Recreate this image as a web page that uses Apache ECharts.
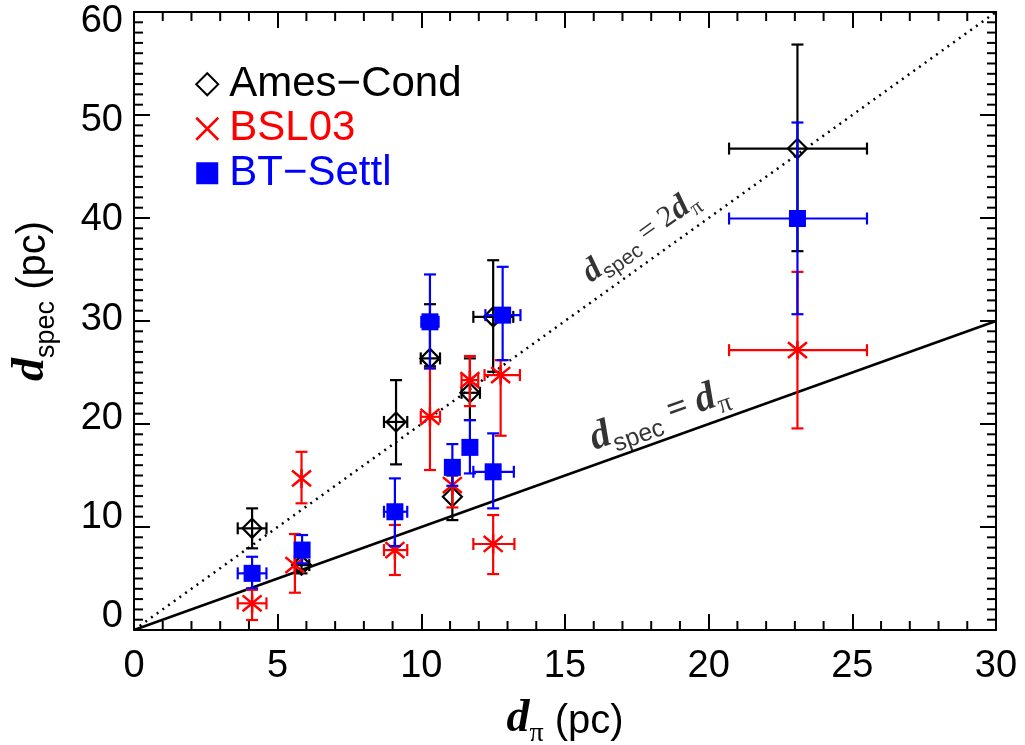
<!DOCTYPE html>
<html><head><meta charset="utf-8">
<script src="https://cdn.jsdelivr.net/npm/echarts@6/dist/echarts.min.js"></script>
<style>html,body{margin:0;padding:0;background:#fff}#c{width:1025px;height:745px}</style>
</head><body><div id="c"></div>
<script>
// ---------------- data ----------------
const amesX   = [4.11, 5.83, 9.12, 10.30, 11.08, 11.69, 12.50, 23.09];
const amesY   = [9.87, 6.30, 20.20, 26.37, 12.94, 23.03, 30.40, 46.74];
const amesYLo = [7.93, 5.50, 16.08, 25.60, 10.67, 20.38, 25.07, 36.78];
const amesYHi = [11.81, 7.10, 24.26, 31.63, 15.00, 26.37, 35.90, 56.84];
const amesXLo = [3.61, 5.60, 8.70, 9.98, null, 11.40, 11.81, 20.71];
const amesXHi = [4.61, 6.10, 9.51, 10.65, null, 12.04, 13.20, 25.51];

const bslX   = [4.11, 5.83, 5.60, 9.08, 10.30, 11.08, 11.69, 12.76, 12.50, 23.09];
const bslY   = [2.59, 14.72, 6.31, 7.76, 20.70, 14.07, 24.26, 24.75, 8.35, 27.17];
const bslYLo = [0.97, 12.30, 3.62, 5.34, 15.53, 11.90, 21.74, 18.86, 5.43, 19.57];
const bslYHi = [3.90, 17.30, 9.32, 10.20, 25.40, 15.50, 26.60, 26.20, 11.16, 34.77];
const bslXLo = [3.61, null, null, 8.70, 9.98, null, 11.40, 12.20, 11.81, 20.71];
const bslXHi = [4.61, null, null, 9.51, 10.65, null, 11.98, 13.43, 13.24, 25.51];

const btX   = [4.11, 5.85, 9.08, 10.30, 11.08, 11.69, 12.50, 12.83, 23.09];
const btY   = [5.50, 7.76, 11.48, 29.92, 15.79, 17.73, 15.36, 30.57, 39.95];
const btYLo = [4.05, 6.47, 8.15, 25.40, 14.00, 15.20, 11.81, 26.20, 30.66];
const btYHi = [7.11, 9.22, 14.72, 34.52, 18.05, 20.38, 19.09, 35.26, 49.27];
const btXLo = [3.61, null, 8.70, 10.00, null, null, 11.81, 12.23, 20.71];
const btXHi = [4.61, null, 9.51, 10.60, null, null, 13.22, 13.45, 25.51];

// reference lines d_spec = d_pi and d_spec = 2 d_pi
const refX       = [0, 30];
const oneToOneY  = [0, 30];
const twoToOneY  = [0, 60];

// annotation anchor points (data coordinates)
const annotX = [17.68, 18.31];
const annotY = [38.04, 20.57];

// tick values
const xTicks = [0, 5, 10, 15, 20, 25, 30];
const yTicks = [0, 10, 20, 30, 40, 50, 60];
const xMinor = [1, 2, 3, 4, 6, 7, 8, 9, 11, 12, 13, 14, 16, 17, 18, 19, 21, 22, 23, 24, 26, 27, 28, 29];
const yMinor = [1, 2, 3, 4, 5, 6, 7, 8, 9, 11, 12, 13, 14, 15, 16, 17, 18, 19,
                21, 22, 23, 24, 25, 26, 27, 28, 29, 31, 32, 33, 34, 35, 36, 37, 38, 39,
                41, 42, 43, 44, 45, 46, 47, 48, 49, 51, 52, 53, 54, 55, 56, 57, 58, 59];

// ---------------- helpers ----------------
function rows(xs, ys, lo, hi, xlo, xhi) {
  return xs.map((x, i) => [x, ys[i], lo[i], hi[i],
    xlo[i] == null ? x : xlo[i], xhi[i] == null ? x : xhi[i]]);
}
function pts(xs, ys) { return xs.map((x, i) => [x, ys[i]]); }

function makeErr(color) {
  return function (params, api) {
    const x = api.value(0), y = api.value(1);
    const ylo = api.value(2), yhi = api.value(3);
    const xlo = api.value(4), xhi = api.value(5);
    const cap = 6;
    const st = { stroke: color, lineWidth: 2.2 };
    const a = api.coord([x, ylo]), b = api.coord([x, yhi]);
    const ch = [
      { type: 'line', shape: { x1: a[0], y1: a[1], x2: b[0], y2: b[1] }, style: st },
      { type: 'line', shape: { x1: a[0] - cap, y1: a[1], x2: a[0] + cap, y2: a[1] }, style: st },
      { type: 'line', shape: { x1: b[0] - cap, y1: b[1], x2: b[0] + cap, y2: b[1] }, style: st }
    ];
    if (xhi > xlo) {
      const l = api.coord([xlo, y]), r = api.coord([xhi, y]);
      ch.push(
        { type: 'line', shape: { x1: l[0], y1: l[1], x2: r[0], y2: r[1] }, style: st },
        { type: 'line', shape: { x1: l[0], y1: l[1] - cap, x2: l[0], y2: l[1] + cap }, style: st },
        { type: 'line', shape: { x1: r[0], y1: r[1] - cap, x2: r[0], y2: r[1] + cap }, style: st }
      );
    }
    return { type: 'group', children: ch };
  };
}

// minor ticks on all four sides of the frame, placed through the axis scales
function makeTicks(dir, len) {
  return function (params, api) {
    const st = { stroke: '#000', lineWidth: 2 };
    if (dir === 'x') {
      const v = api.value(0);
      const b0 = api.coord([v, 0]), t0 = api.coord([v, 60]);
      return { type: 'group', children: [
        { type: 'line', shape: { x1: b0[0], y1: b0[1], x2: b0[0], y2: b0[1] - len }, style: st },
        { type: 'line', shape: { x1: t0[0], y1: t0[1], x2: t0[0], y2: t0[1] + len }, style: st }
      ] };
    }
    const v = api.value(1);
    const l0 = api.coord([0, v]), r0 = api.coord([30, v]);
    return { type: 'group', children: [
      { type: 'line', shape: { x1: l0[0], y1: l0[1], x2: l0[0] + len, y2: l0[1] }, style: st },
      { type: 'line', shape: { x1: r0[0], y1: r0[1], x2: r0[0] - len, y2: r0[1] }, style: st }
    ] };
  };
}

const BLACK = '#000000', RED = '#ff0000', BLUE = '#0000ff';
const SANS = 'Liberation Sans', SERIF = 'Liberation Serif';
const ASTER = 'path://M0,0L10,10M10,0L0,10M5,-1L5,11';
const XICON = 'path://M0,0L10,10M10,0L0,10';

function frameAxis(extra) {
  return Object.assign({
    type: 'value',
    axisLine: { show: true, onZero: false, lineStyle: { color: '#000', width: 2 } },
    axisTick: { show: true, inside: true, length: 16, lineStyle: { color: '#000', width: 2 } },
    axisLabel: { show: false },
    splitLine: { show: false }
  }, extra);
}

const chart = echarts.init(document.getElementById('c'), null, { renderer: 'canvas' });

const richSub = {
  d: { fontFamily: SERIF, fontStyle: 'italic', fontWeight: 'bold', fontSize: 46, color: '#000', padding: [0, 0, 6, 0] },
  sub: { fontFamily: SANS, fontSize: 27, color: '#000', verticalAlign: 'bottom' },
  pi: { fontFamily: SERIF, fontSize: 28, color: '#000', verticalAlign: 'bottom' },
  n: { fontFamily: SANS, fontSize: 40, color: '#000' }
};

const annRich = {
  d: { fontFamily: SERIF, fontStyle: 'italic', fontWeight: 'bold', fontSize: 33, color: '#000', padding: [0, 0, 4, 0] },
  s: { fontFamily: SANS, fontSize: 21, color: '#000', verticalAlign: 'bottom' },
  e: { fontFamily: SERIF, fontSize: 30, color: '#000', padding: [0, 0, 4, 0] },
  p: { fontFamily: SERIF, fontSize: 22, color: '#000', verticalAlign: 'bottom' },
  D: { fontFamily: SERIF, fontStyle: 'italic', fontWeight: 'bold', fontSize: 40, color: '#000', padding: [0, 0, 5, 0] },
  S: { fontFamily: SANS, fontSize: 25, color: '#000', verticalAlign: 'bottom' },
  E: { fontFamily: SERIF, fontWeight: 'bold', fontSize: 36, color: '#000', padding: [0, 0, 5, 0] },
  P: { fontFamily: SERIF, fontSize: 27, color: '#000', verticalAlign: 'bottom' }
};

const option = {
  backgroundColor: '#ffffff',
  animation: false,
  grid: { left: 134, right: 29, top: 12, bottom: 115, containLabel: false, outerBoundsMode: 'none' },
  legend: {
    left: 190, top: 57, orient: 'vertical', selectedMode: false,
    itemWidth: 22, itemHeight: 22, itemGap: 0,
    textStyle: { fontFamily: SANS, fontSize: 42, lineHeight: 44.5, padding: [0, 0, 0, 6] },
    data: [
      { name: 'Ames\u2212Cond', icon: 'diamond', itemStyle: { color: 'rgba(0,0,0,0)', borderColor: BLACK, borderWidth: 2 }, textStyle: { color: BLACK } },
      { name: 'BSL03', icon: XICON, itemStyle: { color: 'rgba(0,0,0,0)', borderColor: RED, borderWidth: 2.5 }, textStyle: { color: RED } },
      { name: 'BT\u2212Settl', icon: 'rect', itemStyle: { color: BLUE, borderWidth: 0 }, textStyle: { color: BLUE } }
    ]
  },
  xAxis: [
    frameAxis({
      min: 0, max: 30, interval: 5, position: 'bottom',
      axisLabel: { show: true, customValues: xTicks, fontFamily: SANS, fontSize: 38, color: '#000', margin: 18 },
      name: '{d|d}{pi|\u03c0}{n| (pc)}', nameLocation: 'middle', nameGap: 66,
      nameTextStyle: { rich: richSub }
    }),
    frameAxis({ min: 0, max: 30, interval: 5, position: 'top' })
  ],
  yAxis: [
    frameAxis({
      min: 0, max: 60, interval: 10, position: 'left',
      name: '{d|d}{sub|spec}{n| (pc)}', nameLocation: 'middle', nameGap: 74, nameRotate: 90,
      nameTextStyle: { rich: richSub, padding: [0, 0, 0, 40] }
    }),
    frameAxis({ min: 0, max: 60, interval: 10, position: 'right' }),
    {
      type: 'value', min: -1.31, max: 60.94, position: 'left',
      axisLine: { show: false, onZero: false }, axisTick: { show: false }, splitLine: { show: false },
      axisLabel: { show: true, customValues: yTicks, fontFamily: SANS, fontSize: 38, color: '#000', margin: 11 }
    }
  ],
  series: [
    { type: 'custom', name: 'xMinorTicks', data: xMinor.map(v => [v, 30]),
      renderItem: makeTicks('x', 9), clip: false, silent: true, z: 10 },
    { type: 'custom', name: 'yMinorTicks', data: yMinor.map(v => [15, v]),
      renderItem: makeTicks('y', 9), clip: false, silent: true, z: 10 },
    { type: 'line', name: 'one', data: pts(refX, oneToOneY), symbol: 'none', silent: true,
      lineStyle: { color: '#000', width: 2.5 }, z: 1 },
    { type: 'line', name: 'two', data: pts(refX, twoToOneY), symbol: 'none', silent: true,
      lineStyle: { color: '#000', width: 2.5, type: [2, 5] }, z: 1 },
    { type: 'scatter', name: 'ann', data: [[annotX[0], annotY[0]], [annotX[1], annotY[1]]],
      symbol: 'circle', symbolSize: 0, silent: true, z: 2,
      label: {
        show: true, position: 'inside',
        formatter: function (p) {
          return p.dataIndex === 0
            ? '{d|d}{s|spec}{e| = 2}{d|d}{p|\u03c0}'
            : '{D|d}{S|spec}{E| = }{D|d}{P|\u03c0}';
        },
        rich: annRich
      },
      labelLayout: function (p) {
        return { rotate: p.dataIndex === 0 ? 35.7 : 19.7 };
      }
    },
    { type: 'custom', name: 'amesErr', data: rows(amesX, amesY, amesYLo, amesYHi, amesXLo, amesXHi),
      renderItem: makeErr(BLACK), clip: false, z: 3, silent: true },
    { type: 'scatter', name: 'Ames\u2212Cond', data: pts(amesX, amesY), symbol: 'diamond', symbolSize: [19, 19],
      itemStyle: { color: 'rgba(0,0,0,0)', borderColor: BLACK, borderWidth: 2.2, opacity: 1 }, z: 4 },
    { type: 'custom', name: 'bslErr', data: rows(bslX, bslY, bslYLo, bslYHi, bslXLo, bslXHi),
      renderItem: makeErr(RED), clip: false, z: 5, silent: true },
    { type: 'scatter', name: 'BSL03', data: pts(bslX, bslY), symbol: ASTER, symbolSize: [19, 19],
      itemStyle: { color: 'rgba(0,0,0,0)', borderColor: RED, borderWidth: 2.5, opacity: 1 }, z: 6 },
    { type: 'custom', name: 'btErr', data: rows(btX, btY, btYLo, btYHi, btXLo, btXHi),
      renderItem: makeErr(BLUE), clip: false, z: 7, silent: true },
    { type: 'scatter', name: 'BT\u2212Settl', data: pts(btX, btY), symbol: 'rect', symbolSize: [17, 17],
      itemStyle: { color: BLUE, opacity: 1 }, z: 8 }
  ]
};
chart.setOption(option);
</script>
</body></html>
